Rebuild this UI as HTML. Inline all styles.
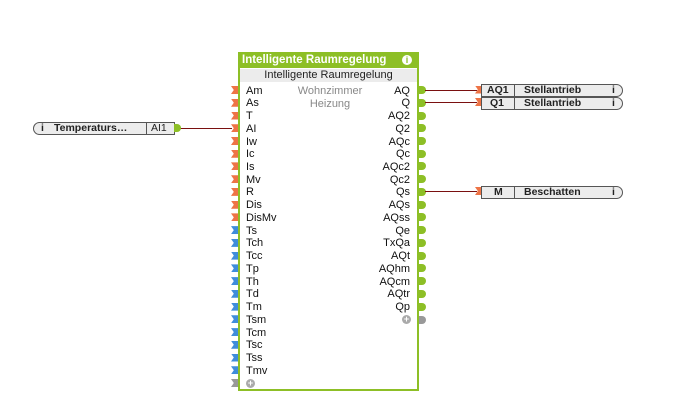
<!DOCTYPE html>
<html><head><meta charset="utf-8"><style>
body{margin:0;width:700px;height:420px;background:#fff;position:relative;overflow:hidden;font-family:"Liberation Sans",Arial,sans-serif;}
.a{position:absolute}
.blk{left:238px;top:52px;width:181px;height:339px;border:2px solid #8dbf26;background:#fff;box-sizing:border-box}
.hd{left:238px;top:52px;width:181px;height:16px;background:#8dbf26;color:#fff;font-weight:bold;font-size:11.5px;line-height:16px;padding-left:4px;box-sizing:border-box}
.sub{left:240px;top:69px;width:177px;height:13px;background:#ececec;font-size:11px;line-height:13px;text-align:center;color:#222}
.l{position:absolute;left:246px;font-size:11px;line-height:13px;color:#111;margin-top:1px}
.r{position:absolute;right:290px;font-size:11px;line-height:13px;color:#111;text-align:right;margin-top:1px}
.po{position:absolute;left:231px;width:7px;height:8px;margin-top:-0.5px;background:#ee7446;clip-path:polygon(0 0,100% 0,100% 100%,0 100%,40% 50%)}
.pb{position:absolute;left:231px;width:7px;height:8px;margin-top:-0.5px;background:#3f8ddb;clip-path:polygon(0 0,100% 0,100% 100%,0 100%,40% 50%)}
.pg{position:absolute;left:419px;width:7px;height:8px;margin-top:-0.5px;background:#8dbf26;border-radius:0 4px 4px 0}
.ln{position:absolute;height:1px;background:#7a1010}
.box{position:absolute;height:11px;border:1px solid #555;background:#ececec;font-size:10.5px;font-weight:bold;line-height:11px;color:#222;border-radius:0 7px 7px 0}
.box span{position:absolute;top:0}
.sep{position:absolute;top:0;width:1px;height:11px;background:#555}
</style></head><body>
<div class="a blk"></div>
<div class="a hd">Intelligente Raumregelung</div>
<div class="a" style="left:402px;top:55px;width:10px;height:10px;border-radius:50%;background:#fff;color:#8dbf26;font-size:9px;font-weight:bold;line-height:10px;text-align:center">i</div>
<div class="a sub">Intelligente Raumregelung</div>
<div class="a" style="left:290px;top:85px;width:80px;text-align:center;font-size:11px;line-height:13px;color:#888">Wohnzimmer</div>
<div class="a" style="left:290px;top:97.5px;width:80px;text-align:center;font-size:11px;line-height:13px;color:#888">Heizung</div>

<div class="l" style="top:83.5px">Am</div><div class="po" style="top:86.5px"></div>
<div class="l" style="top:96.2px">As</div><div class="po" style="top:99.2px"></div>
<div class="l" style="top:109px">T</div><div class="po" style="top:112px"></div>
<div class="l" style="top:121.7px">AI</div><div class="po" style="top:124.7px"></div>
<div class="l" style="top:134.5px">Iw</div><div class="po" style="top:137.5px"></div>
<div class="l" style="top:147.2px">Ic</div><div class="po" style="top:150.2px"></div>
<div class="l" style="top:159.9px">Is</div><div class="po" style="top:162.9px"></div>
<div class="l" style="top:172.7px">Mv</div><div class="po" style="top:175.7px"></div>
<div class="l" style="top:185.4px">R</div><div class="po" style="top:188.4px"></div>
<div class="l" style="top:198.2px">Dis</div><div class="po" style="top:201.2px"></div>
<div class="l" style="top:210.9px">DisMv</div><div class="po" style="top:213.9px"></div>
<div class="l" style="top:223.6px">Ts</div><div class="pb" style="top:226.6px"></div>
<div class="l" style="top:236.4px">Tch</div><div class="pb" style="top:239.4px"></div>
<div class="l" style="top:249.1px">Tcc</div><div class="pb" style="top:252.1px"></div>
<div class="l" style="top:261.9px">Tp</div><div class="pb" style="top:264.9px"></div>
<div class="l" style="top:274.6px">Th</div><div class="pb" style="top:277.6px"></div>
<div class="l" style="top:287.3px">Td</div><div class="pb" style="top:290.3px"></div>
<div class="l" style="top:300.1px">Tm</div><div class="pb" style="top:303.1px"></div>
<div class="l" style="top:312.8px">Tsm</div><div class="pb" style="top:315.8px"></div>
<div class="l" style="top:325.6px">Tcm</div><div class="pb" style="top:328.6px"></div>
<div class="l" style="top:338.3px">Tsc</div><div class="pb" style="top:341.3px"></div>
<div class="l" style="top:351px">Tss</div><div class="pb" style="top:354px"></div>
<div class="l" style="top:363.8px">Tmv</div><div class="pb" style="top:366.8px"></div>
<div class="po" style="top:379.5px;background:#999"></div>
<div class="a" style="left:246px;top:379px;width:9px;height:9px;border-radius:50%;background:#aaa;color:#fff;font-size:9px;line-height:9px;text-align:center;font-weight:bold">+</div>

<div class="r" style="top:83.5px">AQ</div><div class="pg" style="top:86.5px"></div>
<div class="r" style="top:96.2px">Q</div><div class="pg" style="top:99.2px"></div>
<div class="r" style="top:109px">AQ2</div><div class="pg" style="top:112px"></div>
<div class="r" style="top:121.7px">Q2</div><div class="pg" style="top:124.7px"></div>
<div class="r" style="top:134.5px">AQc</div><div class="pg" style="top:137.5px"></div>
<div class="r" style="top:147.2px">Qc</div><div class="pg" style="top:150.2px"></div>
<div class="r" style="top:159.9px">AQc2</div><div class="pg" style="top:162.9px"></div>
<div class="r" style="top:172.7px">Qc2</div><div class="pg" style="top:175.7px"></div>
<div class="r" style="top:185.4px">Qs</div><div class="pg" style="top:188.4px"></div>
<div class="r" style="top:198.2px">AQs</div><div class="pg" style="top:201.2px"></div>
<div class="r" style="top:210.9px">AQss</div><div class="pg" style="top:213.9px"></div>
<div class="r" style="top:223.6px">Qe</div><div class="pg" style="top:226.6px"></div>
<div class="r" style="top:236.4px">TxQa</div><div class="pg" style="top:239.4px"></div>
<div class="r" style="top:249.1px">AQt</div><div class="pg" style="top:252.1px"></div>
<div class="r" style="top:261.9px">AQhm</div><div class="pg" style="top:264.9px"></div>
<div class="r" style="top:274.6px">AQcm</div><div class="pg" style="top:277.6px"></div>
<div class="r" style="top:287.3px">AQtr</div><div class="pg" style="top:290.3px"></div>
<div class="r" style="top:300.1px">Qp</div><div class="pg" style="top:303.1px"></div>
<div class="pg" style="top:316px;background:#999"></div>
<div class="a" style="left:402px;top:315px;width:9px;height:9px;border-radius:50%;background:#aaa;color:#fff;font-size:9px;line-height:9px;text-align:center;font-weight:bold">+</div>

<div class="ln" style="left:425px;top:89.5px;width:52px"></div>
<div class="ln" style="left:425px;top:102px;width:52px"></div>
<div class="ln" style="left:425px;top:191px;width:52px"></div>
<div class="ln" style="left:180px;top:128px;width:52px"></div>

<div class="po" style="left:475px;top:86px"></div>
<div class="box" style="left:481px;top:84px;width:140px"><span style="left:5px">AQ1</span><div class="sep" style="left:32px"></div><span style="left:42px">Stellantrieb</span><span style="left:130px">i</span></div>
<div class="po" style="left:475px;top:98.5px"></div>
<div class="box" style="left:481px;top:96.5px;width:140px"><span style="left:8px">Q1</span><div class="sep" style="left:32px"></div><span style="left:42px">Stellantrieb</span><span style="left:130px">i</span></div>
<div class="po" style="left:475px;top:187.5px"></div>
<div class="box" style="left:481px;top:185.5px;width:140px"><span style="left:12px">M</span><div class="sep" style="left:32px"></div><span style="left:42px">Beschatten</span><span style="left:130px">i</span></div>

<div class="box" style="left:33px;top:122px;width:140px;border-radius:7px 0 0 7px"><span style="left:7px">i</span><span style="left:20px">Temperaturs…</span><div class="sep" style="left:112px"></div><span style="left:117px;font-weight:normal">AI1</span></div>
<div class="pg" style="left:174px;top:124.5px"></div>
</body></html>
